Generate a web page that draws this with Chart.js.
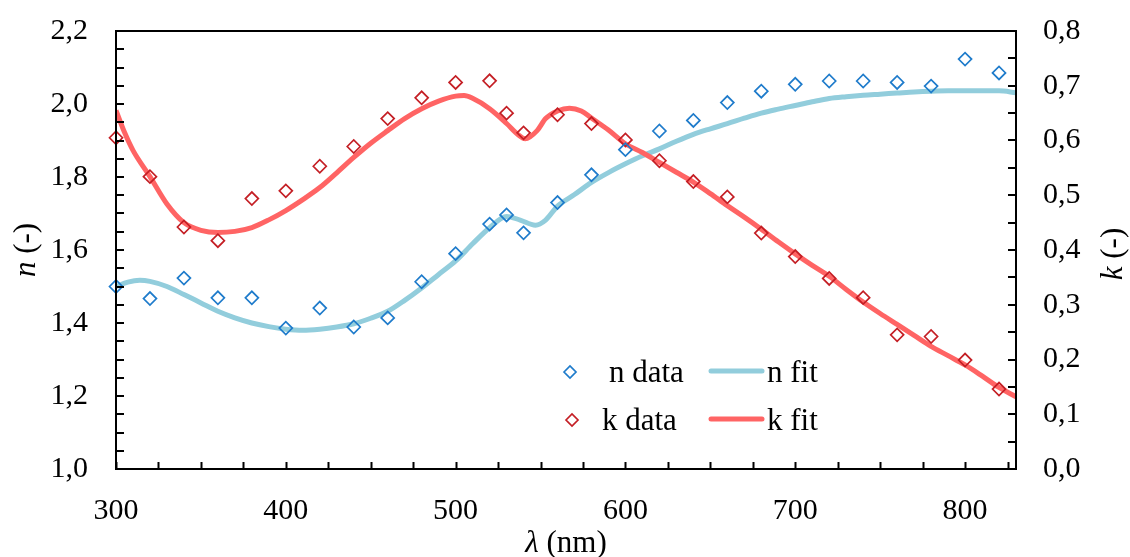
<!DOCTYPE html>
<html><head><meta charset="utf-8">
<script src="https://cdn.jsdelivr.net/npm/chart.js@4.4.1/dist/chart.umd.min.js"></script>
<style>html,body{margin:0;padding:0;background:#fff;}#wrap{width:1130px;height:557px;position:relative;}</style>
</head><body><div id="wrap"><canvas id="c" width="1130" height="557"></canvas></div>
<script>
// ---- data ----
const wavelengths = [300,320,340,360,380,400,420,440,460,480,500,520,530,540,560,580,600,620,640,660,680,700,720,740,760,780,800,820];
const nData = [1.500,1.467,1.523,1.469,1.469,1.386,1.441,1.389,1.414,1.513,1.590,1.671,1.696,1.647,1.730,1.806,1.875,1.926,1.955,2.004,2.035,2.054,2.063,2.063,2.059,2.049,2.123,2.085];
const kData = [0.605,0.534,0.442,0.417,0.494,0.508,0.553,0.589,0.640,0.678,0.706,0.709,0.650,0.614,0.647,0.631,0.601,0.563,0.525,0.497,0.431,0.388,0.348,0.313,0.245,0.242,0.199,0.146];

const nFitWavelengths = [300,307,314,320,330,340,350,360,370,380,390,400,410,420,430,440,450,460,470,480,490,500,510,520,530,538,547,553,560,570,580,590,600,610,620,630,640,650,660,670,680,690,700,710,720,730,740,750,760,770,780,790,800,810,820,830];
const nFit = [1.500,1.512,1.517,1.514,1.500,1.478,1.455,1.432,1.414,1.400,1.390,1.383,1.380,1.383,1.389,1.398,1.413,1.432,1.462,1.496,1.533,1.570,1.617,1.661,1.692,1.682,1.668,1.682,1.720,1.752,1.785,1.812,1.836,1.858,1.877,1.898,1.917,1.932,1.946,1.961,1.975,1.986,1.996,2.006,2.015,2.020,2.024,2.027,2.030,2.033,2.035,2.036,2.036,2.036,2.036,2.031];

const kFitWavelengths = [300,305,310,320,330,340,350,360,370,380,390,400,410,420,430,440,450,460,470,480,490,500,505,510,520,530,537,541,548,553,560,567,574,580,590,600,610,620,630,640,650,660,670,680,690,700,710,720,730,740,750,760,770,780,790,800,810,820,830];
const kFit = [0.655,0.615,0.582,0.534,0.484,0.450,0.436,0.432,0.434,0.441,0.455,0.472,0.492,0.514,0.541,0.569,0.595,0.618,0.640,0.658,0.672,0.681,0.682,0.677,0.658,0.631,0.610,0.603,0.618,0.640,0.654,0.659,0.654,0.641,0.619,0.594,0.578,0.560,0.542,0.524,0.503,0.481,0.460,0.438,0.415,0.393,0.372,0.352,0.328,0.305,0.284,0.264,0.244,0.224,0.207,0.190,0.170,0.149,0.132];

const xTickLabels = [300,400,500,600,700,800];
const nTickLabels = [1.0,1.2,1.4,1.6,1.8,2.0,2.2];
const kTickLabels = [0.0,0.1,0.2,0.3,0.4,0.5,0.6,0.7,0.8];

const legendLabels = ['n data','n fit','k data','k fit'];

// ---- styles ----
const FONT = '"Liberation Serif","Times New Roman",serif';
const BLUE_PT = '#1E7BCB', RED_PT = '#C41E24', BLUE_LINE = '#92CDDC', RED_LINE = '#FF6464';

const pts = (xs, ys) => xs.map((x, i) => ({x: x, y: ys[i]}));
const fmt = v => Number(v).toFixed(1).replace('.', ',');

const decor = {
  id: 'decor',
  afterDatasetsDraw(chart) {
    const ctx = chart.ctx, ca = chart.chartArea;
    const sx = chart.scales.x, sn = chart.scales.yN, sk = chart.scales.yK;
    ctx.save();
    ctx.strokeStyle = '#000';
    ctx.lineWidth = 2;
    ctx.strokeRect(ca.left, ca.top, ca.right - ca.left, ca.bottom - ca.top);
    ctx.beginPath();
    for (let v = 300; v <= sx.max + 1e-9; v += 25) {
      const p = Math.round(sx.getPixelForValue(v)) + 0.5;
      ctx.moveTo(p, ca.bottom); ctx.lineTo(p, ca.bottom - 7);
    }
    for (let i = 0; i <= 24; i++) {
      const p = Math.round(sn.getPixelForValue(1.0 + i * 0.05));
      ctx.moveTo(ca.left, p); ctx.lineTo(ca.left + 8, p);
    }
    for (let i = 0; i <= 16; i++) {
      const p = Math.round(sk.getPixelForValue(i * 0.05));
      ctx.moveTo(ca.right, p); ctx.lineTo(ca.right - 8, p);
    }
    ctx.stroke();

    // axis titles
    ctx.fillStyle = '#000';
    ctx.textBaseline = 'middle';
    const drawMixed = (parts, cx, cy, rot) => {
      ctx.save();
      ctx.translate(cx, cy);
      ctx.rotate(rot);
      let total = 0;
      parts.forEach(p => { ctx.font = p[1]; total += ctx.measureText(p[0]).width; });
      let x = -total / 2;
      ctx.textAlign = 'left';
      parts.forEach(p => { ctx.font = p[1]; ctx.fillText(p[0], x, 0); x += ctx.measureText(p[0]).width; });
      ctx.restore();
    };
    const it = 'italic 31px ' + FONT, nm = '31px ' + FONT;
    drawMixed([['λ', it], [' (nm)', nm]], (ca.left + ca.right) / 2, 544, 0);
    drawMixed([['n', it], [' (-)', nm]], 27, (ca.top + ca.bottom) / 2, -Math.PI / 2);
    drawMixed([['k', it], [' (-)', nm]], 1114, (ca.top + ca.bottom) / 2 + 4, -Math.PI / 2);

    // legend
    const lf = '31px ' + FONT;
    ctx.font = lf;
    ctx.textAlign = 'left';
    ctx.textBaseline = 'alphabetic';
    const rows = [
      {y: 372, px: 570, tx: 609, ptc: BLUE_PT, lc: BLUE_LINE, a: legendLabels[0], b: legendLabels[1]},
      {y: 420, px: 572, tx: 602, ptc: RED_PT, lc: RED_LINE, a: legendLabels[2], b: legendLabels[3]}
    ];
    rows.forEach(r => {
      ctx.lineWidth = 1.7;
      ctx.strokeStyle = r.ptc;
      ctx.fillStyle = 'rgba(255,255,255,0)';
      Chart.helpers.drawPoint(ctx, {pointStyle: 'rectRot', radius: 6, borderWidth: 1.7}, r.px, r.y);
      ctx.fillStyle = '#000';
      ctx.fillText(r.a, r.tx, r.y + 10);
      ctx.strokeStyle = r.lc;
      ctx.lineWidth = 5;
      ctx.lineCap = 'round';
      ctx.beginPath(); ctx.moveTo(711, r.y - 1); ctx.lineTo(762, r.y - 1); ctx.stroke();
      ctx.fillText(r.b, 767, r.y + 10);
    });
    ctx.restore();
  }
};

new Chart(document.getElementById('c'), {
  type: 'scatter',
  data: {
    datasets: [
      {label: 'n data', data: pts(wavelengths, nData), yAxisID: 'yN', pointStyle: 'rectRot', pointRadius: 6.5,
       borderColor: BLUE_PT, backgroundColor: 'rgba(255,255,255,0)', borderWidth: 1.7, showLine: false, order: 0, clip: false},
      {label: 'k data', data: pts(wavelengths, kData), yAxisID: 'yK', pointStyle: 'rectRot', pointRadius: 6.5,
       borderColor: RED_PT, backgroundColor: 'rgba(255,255,255,0)', borderWidth: 1.7, showLine: false, order: 0, clip: false},
      {label: 'n fit', data: pts(nFitWavelengths, nFit), yAxisID: 'yN', showLine: true, pointRadius: 0,
       borderColor: BLUE_LINE, borderWidth: 5, cubicInterpolationMode: 'monotone', order: 2},
      {label: 'k fit', data: pts(kFitWavelengths, kFit), yAxisID: 'yK', showLine: true, pointRadius: 0,
       borderColor: RED_LINE, borderWidth: 5, cubicInterpolationMode: 'monotone', order: 1}
    ]
  },
  options: {
    responsive: false, animation: false, devicePixelRatio: 1,
    layout: {padding: {top: 31, left: 0, right: 0, bottom: 0}},
    plugins: {legend: {display: false}, tooltip: {enabled: false}},
    scales: {
      x: {
        type: 'linear', position: 'bottom', min: 300, max: 830,
        grid: {display: false, drawTicks: false}, border: {display: false},
        afterBuildTicks: s => { s.ticks = xTickLabels.map(v => ({value: v})); },
        afterFit: s => { s.height = 88; s.paddingLeft = 0; s.paddingRight = 0; },
        ticks: {color: '#000', padding: 24, maxRotation: 0, autoSkip: false, font: {family: FONT, size: 30},
                callback: v => String(v)}
      },
      yN: {
        type: 'linear', position: 'left', min: 1.0, max: 2.2,
        grid: {display: false, drawTicks: false}, border: {display: false},
        afterBuildTicks: s => { s.ticks = nTickLabels.map(v => ({value: v})); },
        afterFit: s => { s.width = 116; s.paddingTop = 0; s.paddingBottom = 0; },
        ticks: {color: '#000', padding: 28, autoSkip: false, font: {family: FONT, size: 30}, callback: v => fmt(v)}
      },
      yK: {
        type: 'linear', position: 'right', min: 0, max: 0.8,
        grid: {display: false, drawTicks: false}, border: {display: false},
        afterBuildTicks: s => { s.ticks = kTickLabels.map(v => ({value: v})); },
        afterFit: s => { s.width = 114; s.paddingTop = 0; s.paddingBottom = 0; },
        ticks: {color: '#000', padding: 27, autoSkip: false, font: {family: FONT, size: 30}, callback: v => fmt(v)}
      }
    }
  },
  plugins: [decor]
});
</script></body></html>
